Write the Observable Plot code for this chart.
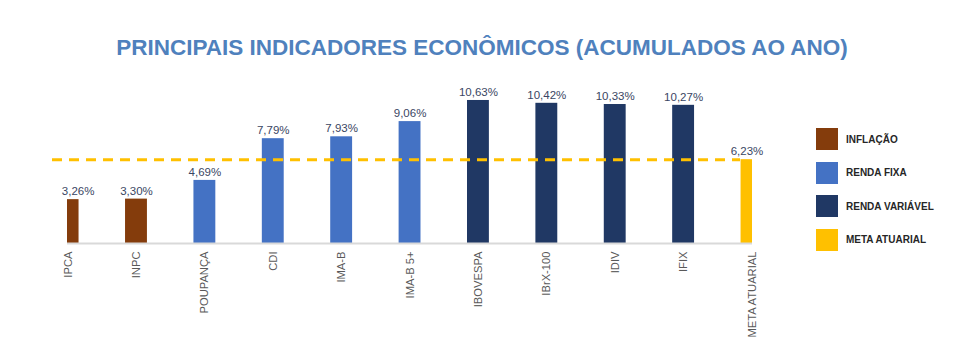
<!DOCTYPE html>
<html>
<head>
<meta charset="utf-8">
<script src="https://cdn.jsdelivr.net/npm/d3@7"></script>
<script src="https://cdn.jsdelivr.net/npm/@observablehq/plot@0.6"></script>
<style>
  body { margin: 0; background: #fff; width: 977px; height: 348px; position: relative; overflow: hidden; }
  #title { height: 80px; box-sizing: border-box; padding-top: 35px; padding-right: 13px; text-align: center;
    font: bold 22.5px "Liberation Sans", Arial, sans-serif; color: #4f81bd; line-height: 26px; white-space: nowrap; }
  #legend { position: absolute; left: 816px; top: 128px; font: bold 10px "Liberation Sans", Arial, sans-serif; color: #262626; }
  .item { display: flex; align-items: center; height: 22px; margin-bottom: 11.5px; }
  .sw { width: 22px; height: 22px; margin-right: 8px; }
</style>
</head>
<body>
<div id="title">PRINCIPAIS INDICADORES ECONÔMICOS (ACUMULADOS AO ANO)</div>
<div id="chart"></div>
<div id="legend"></div>
<script>
const categories = ["IPCA", "INPC", "POUPANÇA", "CDI", "IMA-B", "IMA-B 5+", "IBOVESPA", "IBrX-100", "IDIV", "IFIX", "META ATUARIAL"];
const values = [3.26, 3.30, 4.69, 7.79, 7.93, 9.06, 10.63, 10.42, 10.33, 10.27, 6.23];
const groups = ["INFLAÇÃO", "INFLAÇÃO", "RENDA FIXA", "RENDA FIXA", "RENDA FIXA", "RENDA FIXA",
  "RENDA VARIÁVEL", "RENDA VARIÁVEL", "RENDA VARIÁVEL", "RENDA VARIÁVEL", "META ATUARIAL"];
const groupNames = ["INFLAÇÃO", "RENDA FIXA", "RENDA VARIÁVEL", "META ATUARIAL"];
const groupColors = ["#843c0c", "#4472c4", "#203864", "#ffc000"];
const metaAtuarial = 6.23;

const data = categories.map((c, i) => ({ cat: c, value: values[i], group: groups[i] }));
const fmt = v => v.toFixed(2).replace(".", ",") + "%";

const chart = Plot.plot({
  width: 977,
  height: 264,
  marginLeft: 67,
  marginRight: 225,
  marginTop: 15,
  marginBottom: 101,
  style: { fontFamily: "Liberation Sans, Arial, sans-serif", fontSize: "11.2px", color: "#595959", background: "transparent" },
  x: { domain: categories, range: [33.4, 785.7], paddingInner: 0.68, paddingOuter: 0.34, round: false,
       label: null, tickRotate: -90, tickSize: 0, tickPadding: 8 },
  y: { domain: [0, 11], axis: null },
  color: { domain: groupNames, range: groupColors },
  marks: [
    Plot.barY(data, { x: "cat", y: "value", fill: "group", clip: "frame" }),
    Plot.ruleY([0], { stroke: "#d9d9d9", strokeWidth: 2 }),
    Plot.ruleY([metaAtuarial], { stroke: "#ffc000", strokeWidth: 3, strokeDasharray: "10,7", insetLeft: -15, insetRight: 12 }),
    Plot.text(data.slice(1, -1), { x: "cat", y: "value", text: d => fmt(d.value), dy: -8, fill: "#3a4663", fontSize: 11.5 }),
    Plot.text(data.slice(0, 1), { x: "cat", y: "value", text: d => fmt(d.value), dy: -8, dx: 10, fill: "#3a4663", fontSize: 11.5 }),
    Plot.text(data.slice(-1), { x: "cat", y: "value", text: d => fmt(d.value), dy: -8, dx: -5, fill: "#3a4663", fontSize: 11.5 })
  ]
});
document.getElementById("chart").appendChild(chart);

const legend = document.getElementById("legend");
groupNames.forEach((g, i) => {
  const item = document.createElement("div");
  item.className = "item";
  item.innerHTML = `<div class="sw" style="background:${groupColors[i]}"></div><span>${g}</span>`;
  legend.appendChild(item);
});
</script>
</body>
</html>
